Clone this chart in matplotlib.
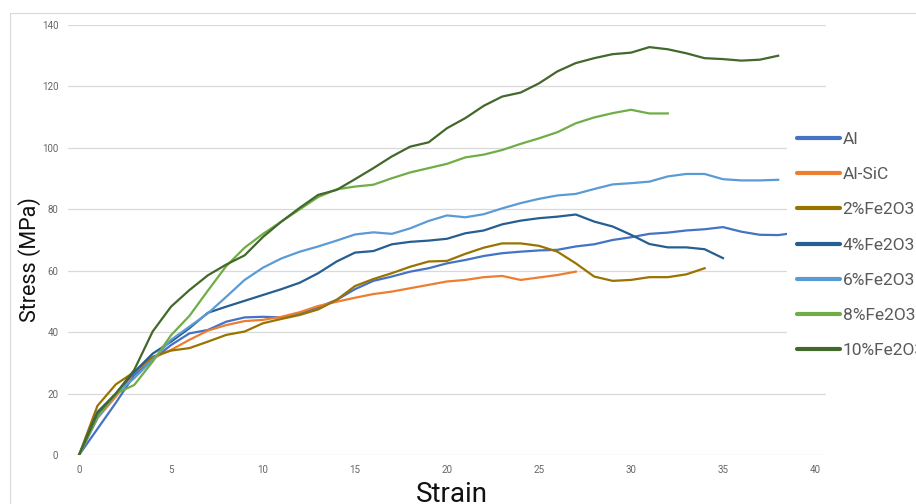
import matplotlib.pyplot as plt
from matplotlib.patches import Rectangle

plt.rcParams['font.family'] = ['Roboto', 'DejaVu Sans']

# Werte (Dehnung in ganzen Schritten)
al = [0, 8.5, 17, 26, 31, 35.8, 39.6, 40.7, 43.4, 44.8, 45, 44.8, 46.1, 48.1, 50.5, 54,
      56.7, 58.1, 59.7, 60.8, 62.4, 63.5, 64.8, 65.7, 66.2, 66.6, 66.8, 67.9, 68.6, 70,
      70.9, 72, 72.4, 73.1, 73.5, 74.2, 72.7, 71.7, 71.6, 72]
al_x = list(range(39)) + [38.5]
al_sic = [0, 12, 19, 27, 31.5, 34.2, 37.5, 40.5, 42.3, 43.6, 44, 45, 46.5, 48.5, 49.9,
          51.2, 52.4, 53.2, 54.3, 55.4, 56.5, 57, 57.9, 58.3, 57, 57.8, 58.6, 59.7]
fe2 = [0, 16, 23, 27, 32, 34, 34.8, 36.9, 39.1, 40.2, 42.9, 44.3, 45.6, 47.4, 50.5, 55,
       57.3, 59.2, 61.3, 63, 63.2, 65.5, 67.5, 68.9, 68.9, 68.1, 66.2, 62.4, 58.1, 56.7,
       57, 57.9, 57.9, 58.8, 60.8]
fe4 = [0, 14, 20, 27, 33, 36.9, 41.3, 46.3, 48.3, 50.2, 52.1, 54, 56.1, 59.2, 63, 65.9,
       66.4, 68.6, 69.4, 69.8, 70.4, 72.2, 73.1, 75.1, 76.3, 77.1, 77.6, 78.3, 76, 74.4,
       71.7, 68.7, 67.6, 67.6, 67, 64.1]
fe6 = [0, 12, 20, 25, 31, 37.5, 41.8, 46.1, 51.5, 57, 61, 64, 66.2, 67.9, 69.8, 71.8,
       72.5, 72, 73.8, 76.2, 78, 77.4, 78.4, 80.3, 82, 83.4, 84.5, 85, 86.6, 88.1, 88.5,
       89, 90.7, 91.5, 91.5, 89.8, 89.4, 89.4, 89.6]
fe8 = [0, 12.5, 20, 22.8, 30.4, 39, 45.3, 53.5, 61.5, 67.5, 72, 76, 80, 84, 86.5, 87.4,
       88, 90.1, 92, 93.4, 94.8, 96.9, 97.8, 99.3, 101.3, 103.1, 105.1, 108, 109.9, 111.3,
       112.4, 111.2, 111.2]
fe10 = [0, 13.5, 20, 27.7, 40.2, 48.3, 53.7, 58.5, 62, 65, 71, 76, 80.5, 84.7, 86.3, 89.8,
        93.4, 97.2, 100.4, 101.8, 106.4, 109.7, 113.7, 116.7, 118, 121, 124.9, 127.6, 129.2,
        130.5, 131, 132.8, 132.1, 130.8, 129.2, 128.9, 128.4, 128.7, 130]

labels = ['Al', 'Al-SiC', '2%Fe2O3', '4%Fe2O3', '6%Fe2O3', '8%Fe2O3', '10%Fe2O3']
farben = ['#4472C4', '#ED7D31', '#997300', '#255E91', '#5B9BD5', '#70AD47', '#43682B']
reihen = [(al_x, al), (None, al_sic), (None, fe2), (None, fe4), (None, fe6), (None, fe8), (None, fe10)]

fig = plt.figure(figsize=(9.16, 5.04), dpi=100)
ax = fig.add_axes([68 / 916, 49 / 504, 758 / 916, 430 / 504])

# Rahmen des Diagrammbereichs
fig.patches.append(Rectangle((10 / 916, -0.1), 1.0, (504 - 13) / 504 + 0.1,
                             transform=fig.transFigure, fill=False,
                             edgecolor='#d9d9d9', linewidth=0.8))

for (xs, ys), lab, c in zip(reihen, labels, farben):
    if xs is None:
        xs = list(range(len(ys)))
    ax.plot(xs, ys, color=c, linewidth=1.6, label=lab, solid_joinstyle='round')

ax.set_xlim(-0.6, 40.6)
ax.set_ylim(0, 140)
ax.set_xticks(range(0, 41, 5))
ax.set_yticks(range(0, 141, 20))
ax.grid(True, axis='y', color='#d9d9d9', linewidth=0.9)
ax.set_axisbelow(True)
for s in ax.spines.values():
    s.set_visible(False)
ax.tick_params(length=0, labelsize=7, labelcolor='#666666', pad=7)

fig.text(30 / 916, (504 - 260) / 504, 'Stress (MPa)', rotation=90, ha='center', va='center',
         fontsize=15.5, color='#111111')
fig.text(452 / 916, 2 / 504, 'Strain', ha='center', va='baseline', fontsize=20, color='#111111')

leg = ax.legend(loc='center left', bbox_to_anchor=(787 / 916, (504 - 245) / 504),
                bbox_transform=fig.transFigure, frameon=True, fancybox=False,
                borderpad=0.57, borderaxespad=0, handlelength=2.47, handletextpad=0.17,
                labelspacing=1.15, prop={'size': 12.5})
leg.get_frame().set_facecolor('white')
leg.get_frame().set_edgecolor('none')
leg.get_frame().set_alpha(1)
for line in leg.get_lines():
    line.set_linewidth(3.0)
    line.set_solid_capstyle('round')
for t in leg.get_texts():
    t.set_color('#595959')

fig.savefig('out.png', dpi=100)
